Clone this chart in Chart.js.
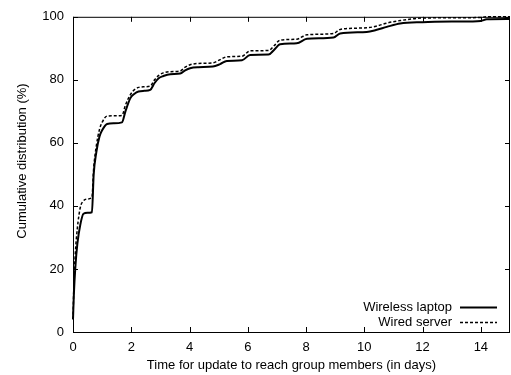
<!DOCTYPE html>
<html lang="en">
<head>
<meta charset="UTF-8">
<script src="https://cdn.jsdelivr.net/npm/chart.js"></script>
<title>Update delay CDF</title>
<style>
  html, body { margin: 0; padding: 0; background: #fff; }
  #wrap { width: 511px; height: 375px; }
</style>
</head>
<body>
<div id="wrap"><canvas id="cdfChart" width="511" height="375"></canvas></div>
<script>
// time in days
const days = [0, 0.03, 0.08, 0.15, 0.25, 0.36, 0.5, 0.65, 0.71, 0.8, 0.91, 1.0, 1.17, 1.4, 1.68, 1.8, 1.97, 2.1, 2.25, 2.45,
  2.65, 2.8, 2.94, 3.1, 3.34, 3.68, 3.85, 4.02, 4.3, 4.8, 5.05, 5.28, 5.8, 6.08, 6.71, 6.9, 7.11, 7.68, 8.03, 8.94,
  9.17, 10.08, 10.4, 10.77, 11.23, 12.0, 13.17, 14.0, 14.2, 15];
// cumulative %
const laptop = [4, 12, 20.5, 28, 34, 37.5, 37.8, 38, 50, 57, 62, 64, 66, 66.2, 66.5, 70, 74.2, 75.5, 76.3, 76.5,
  76.8, 79, 80.5, 81.2, 81.8, 82, 83, 83.7, 84, 84.2, 85, 86, 86.2, 87.9, 88, 89.5, 91.3, 91.6, 93, 93.4,
  94.7, 95.2, 95.8, 96.8, 97.9, 98.3, 98.5, 98.7, 99.2, 99.3];
const server = [4, 15, 25, 33, 39.5, 41.6, 42.2, 42.7, 52, 59, 64.3, 66.5, 68.5, 68.6, 68.7, 72, 75.3, 76.8, 77.6, 77.8,
  78, 80, 81.4, 82.2, 82.6, 82.8, 84, 84.8, 85.2, 85.4, 86.4, 87.3, 87.5, 89.2, 89.3, 90.8, 92.6, 92.9, 94.3, 94.7,
  96, 96.5, 97, 98, 98.8, 99.6, 99.7, 99.8, 100, 100];

const xTicks = [0, 2, 4, 6, 8, 10, 12, 14];
const yTicks = [0, 20, 40, 60, 80, 100];
const seriesNames = ['Wireless laptop', 'Wired server'];
const yTitle = 'Cumulative distribution (%)';

const FONT = "13px 'Liberation Sans', Arial, sans-serif";
Chart.defaults.font.family = "'Liberation Sans', Arial, sans-serif";
Chart.defaults.font.size = 13;
Chart.defaults.color = '#000';

// gnuplot style frame: box, inward ticks, legend inside bottom right
const framePlugin = {
  id: 'frame',
  afterDatasetsDraw(chart) {
    const { ctx, chartArea: a, scales } = chart;
    ctx.save();
    ctx.strokeStyle = '#000';
    ctx.lineWidth = 1;
    ctx.setLineDash([]);
    ctx.strokeRect(a.left + 0.5, a.top + 0.5, a.right - a.left - 1, a.bottom - a.top);
    const len = 5;
    ctx.beginPath();
    xTicks.forEach(v => {
      const x = Math.round(scales.x.getPixelForValue(v)) + 0.5;
      ctx.moveTo(x, a.bottom); ctx.lineTo(x, a.bottom - len);
      ctx.moveTo(x, a.top); ctx.lineTo(x, a.top + len);
    });
    yTicks.forEach(v => {
      const y = Math.round(scales.y.getPixelForValue(v)) + 0.5;
      ctx.moveTo(a.left, y); ctx.lineTo(a.left + len, y);
      ctx.moveTo(a.right, y); ctx.lineTo(a.right - len, y);
    });
    ctx.stroke();

    ctx.font = FONT;
    ctx.fillStyle = '#000';

    // y title (sits a bit above the axis middle in the original)
    ctx.save();
    ctx.translate(22, 161);
    ctx.rotate(-Math.PI / 2);
    ctx.textAlign = 'center';
    ctx.textBaseline = 'middle';
    ctx.fillText(yTitle, 0, 0);
    ctx.restore();

    // legend
    ctx.textAlign = 'right';
    ctx.textBaseline = 'middle';
    chart.data.datasets.forEach((ds, i) => {
      const y = 307 + i * 15;
      ctx.fillText(ds.label, 452, y);
      ctx.beginPath();
      ctx.lineWidth = ds.borderWidth;
      ctx.setLineDash(ds.borderDash || []);
      ctx.moveTo(460, y + 0.5);
      ctx.lineTo(497, y + 0.5);
      ctx.stroke();
    });
    ctx.restore();
  }
};

new Chart(document.getElementById('cdfChart'), {
  type: 'line',
  data: {
    labels: days,
    datasets: [
      {
        label: seriesNames[0],
        data: days.map((d, i) => ({ x: d, y: laptop[i] })),
        borderColor: '#000',
        borderWidth: 2,
        pointRadius: 0,
        clip: 2,
        cubicInterpolationMode: 'monotone'
      },
      {
        label: seriesNames[1],
        data: days.map((d, i) => ({ x: d, y: server[i] })),
        borderColor: '#000',
        borderWidth: 1.5,
        borderDash: [3, 2],
        pointRadius: 0,
        clip: 2,
        cubicInterpolationMode: 'monotone'
      }
    ]
  },
  options: {
    responsive: false,
    animation: false,
    layout: { padding: { top: 15, right: 1, left: 0, bottom: 0 } },
    plugins: { legend: { display: false }, tooltip: { enabled: false } },
    scales: {
      x: {
        type: 'linear',
        min: 0,
        max: 15,
        afterBuildTicks: s => { s.ticks = xTicks.map(v => ({ value: v })); },
        afterFit: s => { s.height = 43; },
        grid: { display: false, drawTicks: false },
        border: { display: false },
        ticks: { padding: 8, maxRotation: 0 },
        title: { display: true, text: 'Time for update to reach group members (in days)', padding: { top: 0, bottom: 2 } }
      },
      y: {
        min: 0,
        max: 100,
        afterBuildTicks: s => { s.ticks = yTicks.map(v => ({ value: v })); },
        afterFit: s => { s.width = 73; },
        grid: { display: false, drawTicks: false },
        border: { display: false },
        ticks: { padding: 9 },
        title: { display: false }
      }
    }
  },
  plugins: [framePlugin]
});
</script>
</body>
</html>
